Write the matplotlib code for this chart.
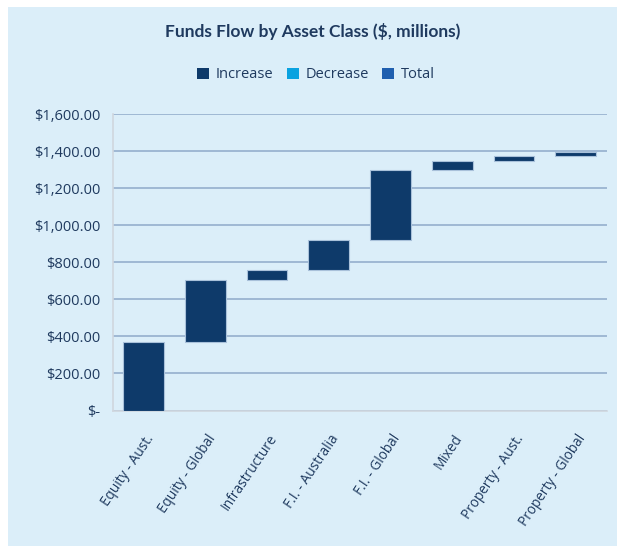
import matplotlib
matplotlib.use("Agg")
import matplotlib.pyplot as plt
from matplotlib.patches import Rectangle, Patch
import matplotlib.transforms as mtransforms
import numpy as np

categories = ["Equity - Aust.", "Equity - Global", "Infrastructure", "F.I. - Australia",
              "F.I. - Global", "Mixed", "Property - Aust.", "Property - Global"]
increase = [372, 332, 54, 160, 379, 52, 27, 17]
ytick_values = [0, 200, 400, 600, 800, 1000, 1200, 1400, 1600]
ytick_labels = ["$-", "$200.00", "$400.00", "$600.00", "$800.00", "$1,000.00",
                "$1,200.00", "$1,400.00", "$1,600.00"]
legend_labels = ["Increase", "Decrease", "Total"]

plt.rcParams['font.family'] = ['Open Sans', 'DejaVu Sans']

BG = "#DBEEF9"
BAR = "#0E3A6A"
TXT = "#1F3A5F"
GRID = "#8FAACA"

fig = plt.figure(figsize=(6.17, 5.46), dpi=100, facecolor="white")
fig.patches.append(Rectangle((8/617, 0), 1, 1 - 7/546, transform=fig.transFigure,
                             facecolor=BG, edgecolor="none", zorder=-10))

ax = fig.add_axes([112.7/617, 1 - 410.5/546, (606.7 - 112.7)/617, (410.5 - 114)/546])
ax.set_facecolor(BG)

x = np.arange(len(categories))
bottoms = np.concatenate([[0], np.cumsum(increase)[:-1]])
ax.bar(x, increase, bottom=bottoms, width=0.66, color=BAR, edgecolor="#A9C1DA",
       linewidth=0.8, zorder=3)

ax.set_xlim(-0.5, len(categories) - 0.5)
ax.set_ylim(0, 1600)
ax.set_yticks(ytick_values)
ax.set_yticklabels(ytick_labels, fontsize=10.5, color=TXT)
ax.yaxis.grid(True, color=GRID, linewidth=1.1, zorder=0)
ax.set_axisbelow(True)
ax.tick_params(axis='y', length=0, pad=9)
ax.tick_params(axis='x', length=0, pad=6)
ax.set_xticks(x)
ax.set_xticklabels(categories, rotation=56, ha='right', va='top', rotation_mode='anchor',
                   fontsize=9.8, color=TXT)
offset = mtransforms.ScaledTranslation(1/100, -13/100, fig.dpi_scale_trans)
for t in ax.get_xticklabels():
    t.set_transform(t.get_transform() + offset)

for s in ["top", "right"]:
    ax.spines[s].set_visible(False)
ax.spines["left"].set_color("#D0D7DE")
ax.spines["bottom"].set_color("#D0D7DE")
ax.spines["left"].set_linewidth(1.2)
ax.spines["bottom"].set_linewidth(1.2)

fig.text(313/617, 1 - 31/546, "Funds Flow by Asset Class ($, millions)", ha='center', va='center',
         fontsize=12.5, fontweight='bold', color=TXT, family=['Lato', 'DejaVu Sans'])

handles = [Patch(facecolor=c, edgecolor='none') for c in [BAR, "#0AA2E0", "#1F5FAF"]]
fig.legend(handles, legend_labels, loc='center', bbox_to_anchor=(316/617, 1 - 75/546),
           ncol=3, frameon=False, fontsize=10.5, labelcolor=TXT, handlelength=0.85,
           handleheight=0.85, handletextpad=0.45, columnspacing=0.9)

fig.savefig("out.png", dpi=100, facecolor="white")
